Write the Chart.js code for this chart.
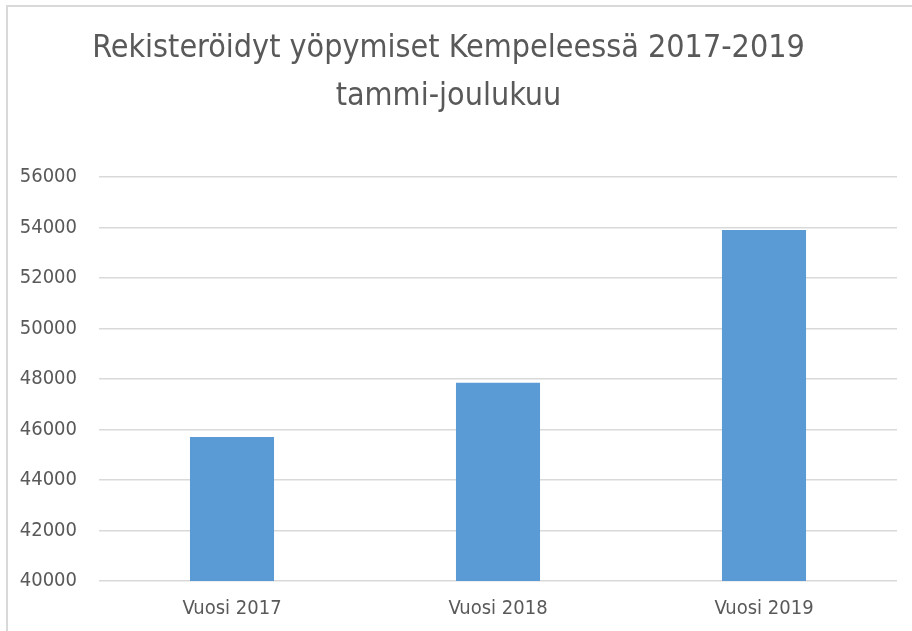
<!DOCTYPE html>
<html>
<head>
<meta charset="utf-8">
<script src="https://cdn.jsdelivr.net/npm/chart.js@4"></script>
<style>
  body { margin: 0; background: #fff; overflow: hidden; }
  #frame { position: absolute; left: 6px; top: 5px; width: 1000px; height: 1000px;
           border-left: 2px solid #d9d9d9; border-top: 2px solid #d9d9d9; }
  #chart { position: absolute; left: 0; top: 0; }
</style>
</head>
<body>
<div id="frame"></div>
<canvas id="chart" width="912" height="631"></canvas>
<script>
const categories = ['Vuosi 2017', 'Vuosi 2018', 'Vuosi 2019'];
const overnightStays = [45700, 47850, 53900];
const titleLines = ['Rekisteröidyt yöpymiset Kempeleessä 2017-2019', 'tammi-joulukuu'];
const yMin = 40000, yMax = 56000, yStep = 2000;

const fontFamily = '"DejaVu Sans Condensed", sans-serif';
const textColor = '#595959';

new Chart(document.getElementById('chart').getContext('2d'), {
    type: 'bar',
    data: {
        labels: categories,
        datasets: [{
            data: overnightStays,
            backgroundColor: '#5b9bd5',
            barPercentage: 1,
            categoryPercentage: 0.316
        }]
    },
    options: {
        responsive: false,
        animation: false,
        layout: { padding: { left: 0, right: 15, top: 0, bottom: 0 } },
        plugins: {
            legend: { display: false },
            tooltip: { enabled: false },
            title: {
                display: true,
                text: titleLines,
                color: textColor,
                font: { family: fontFamily, size: 32, weight: 'normal', lineHeight: 1.5 },
                padding: { top: 25, bottom: 56 }
            }
        },
        scales: {
            x: {
                grid: { display: false },
                border: { display: false },
                ticks: { color: textColor, font: { family: fontFamily, size: 20 }, padding: 8 },
                afterFit: s => { s.height = 50; }
            },
            y: {
                min: yMin,
                max: yMax,
                grid: { color: '#d9d9d9', lineWidth: 1.5, drawTicks: false },
                border: { display: false },
                ticks: {
                    stepSize: yStep,
                    color: textColor,
                    font: { family: fontFamily, size: 20 },
                    padding: 22,
                    callback: v => String(v)
                },
                afterFit: s => { s.width = 99; }
            }
        }
    }
});
</script>
</body>
</html>
